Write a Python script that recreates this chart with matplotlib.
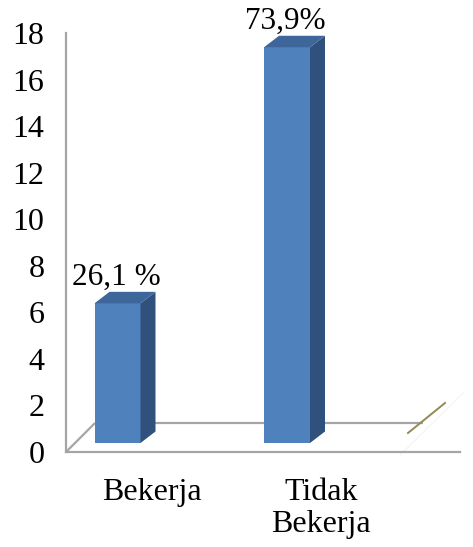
import numpy as np
import matplotlib
matplotlib.use("Agg")
import matplotlib.pyplot as plt
from matplotlib.transforms import ScaledTranslation

plt.rcParams['font.family'] = ['Liberation Serif', 'DejaVu Serif']

# --- data ---------------------------------------------------------------
categories = ["Bekerja", "Tidak\nBekerja"]
counts = [6, 17]
pct_suffix = [" %", "%"]
yticks = [0, 2, 4, 6, 8, 10, 12, 14, 16, 18]

# --- styling ------------------------------------------------------------
FRONT = "#4F81BD"
SIDE = "#30517C"
TOP = "#3E669A"
FRAME = "#A5A5A5"
OLIVE = "#938953"
FS = 23

W, H, DPI = 473, 547, 100
fig = plt.figure(figsize=(W / DPI, H / DPI), dpi=DPI)
fig.patch.set_facecolor("white")

# axes box in pixels
ax_left, ax_right = 66, 460
ax_top, ax_bottom = 33, 452
ax = fig.add_axes([ax_left / W, (H - ax_bottom) / H,
                   (ax_right - ax_left) / W, (ax_bottom - ax_top) / H])

cat_px = 169.5                         # pixel distance between categories
first_px = 117.5 - ax_left             # first category from the left spine
x0 = -first_px / cat_px
ax.set_xlim(x0, x0 + (ax_right - ax_left) / cat_px)
ax.set_ylim(0, 18)

px_x = cat_px                          # pixels per x unit
px_y = (ax_bottom - ax_top) / 18.0     # pixels per y unit

x = np.arange(len(categories))
counts_arr = np.array(counts, dtype=float)
bar_w = 46 / px_x
dep_x = 15 / px_x
dep_y = 11.5 / px_y

# bars stand a little behind the front edge of the floor
lift = ScaledTranslation(0, 9 / DPI, fig.dpi_scale_trans)
tr = ax.transData + lift

# floor frame: depth edge, back edge and wall edge
span_x = ax_right - ax_left
span_y = ax_bottom - ax_top
fx = 29 / span_x
fy = 29 / span_y
bx = (423 - ax_left) / span_x
ax.plot([0, fx], [0, fy], transform=ax.transAxes, color=FRAME, lw=1.6,
        zorder=1, solid_capstyle="butt")
ax.plot([fx, bx], [fy, fy], transform=ax.transAxes, color=FRAME, lw=1.6,
        zorder=1, solid_capstyle="butt")
ax.plot([(408 - ax_left) / span_x, (445 - ax_left) / span_x],
        [(ax_bottom - 433) / span_y, (ax_bottom - 403) / span_y],
        transform=ax.transAxes, color=OLIVE, lw=1.4, zorder=1)
ax.plot([(400 - ax_left) / span_x, (463 - ax_left) / span_x],
        [(ax_bottom - 455) / span_y, (ax_bottom - 393) / span_y],
        transform=ax.transAxes, color="#F6F6F6", lw=1.0, zorder=0.9, clip_on=False)

# front faces
ax.bar(x, counts_arr, width=bar_w, color=FRONT, edgecolor="none",
       transform=tr, zorder=3)

# side and top faces
for xi, v in zip(x, counts_arr):
    r = xi + bar_w / 2
    l = xi - bar_w / 2
    ax.fill([r, r + dep_x, r + dep_x, r], [0, dep_y, v + dep_y, v],
            color=SIDE, lw=0, transform=tr, zorder=3)
    ax.fill([l, r, r + dep_x, l + dep_x], [v, v, v + dep_y, v + dep_y],
            color=TOP, lw=0, transform=tr, zorder=3)

# percentage labels above the bars
total = counts_arr.sum()
for xi, v, suf in zip(x, counts_arr, pct_suffix):
    pct = f"{v / total * 100:.1f}".replace(".", ",") + suf
    ax.annotate(pct, xy=(xi, v + dep_y), xycoords=tr,
                xytext=(-1, 0), textcoords="offset points",
                ha="center", va="bottom", fontsize=FS - 0.5, color="black")

# axes frame
for s in ["top", "right"]:
    ax.spines[s].set_visible(False)
for s in ["left", "bottom"]:
    ax.spines[s].set_color(FRAME)
    ax.spines[s].set_linewidth(1.6)
ax.spines["left"].set_zorder(2)
ax.spines["bottom"].set_zorder(2)

ax.set_yticks(yticks)
ax.set_yticklabels([str(t) for t in yticks])
ax.tick_params(axis="y", length=0, pad=15.5, labelsize=FS)

ax.set_xticks(x)
ax.set_xticklabels(categories, linespacing=1.1)
ax.tick_params(axis="x", length=0, pad=19, labelsize=FS)
shift = ScaledTranslation(34 / DPI, 0, fig.dpi_scale_trans)
for lab in ax.get_xticklabels():
    lab.set_transform(lab.get_transform() + shift)

ax.set_facecolor("none")
fig.savefig("out.png", dpi=DPI, facecolor="white")
